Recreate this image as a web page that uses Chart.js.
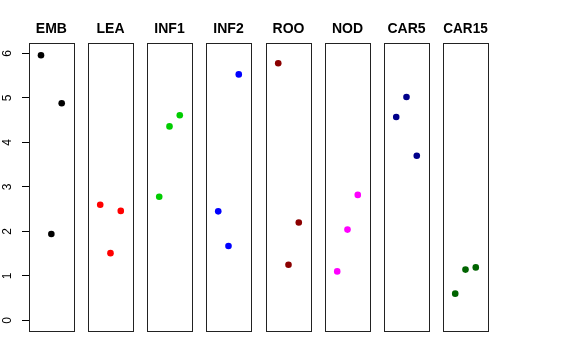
<!DOCTYPE html>
<html>
<head>
<meta charset="utf-8">
<script src="https://cdn.jsdelivr.net/npm/chart.js@4/dist/chart.umd.min.js"></script>
<style>
  html, body { margin: 0; padding: 0; background: #fff; }
  #wrap { position: relative; width: 576px; height: 360px; overflow: hidden; }
  #wrap canvas { position: absolute; top: 0; }
</style>
</head>
<body>
<div id="wrap"></div>
<script>
// panel names and colours
const PANELS = ['EMB', 'LEA', 'INF1', 'INF2', 'ROO', 'NOD', 'CAR5', 'CAR15'];
const COLORS = ['#000000', '#FF0000', '#00CD00', '#0000FF', '#8B0000', '#FF00FF', '#00008B', '#006400'];

// x positions inside every panel
const X_POS = [1, 2, 3];

// values per panel, in x order
const EMB = [5.96, 1.94, 4.88];
const LEA = [2.60, 1.51, 2.46];
const INF1 = [2.78, 4.36, 4.61];
const INF2 = [2.45, 1.67, 5.53];
const ROO = [5.78, 1.25, 2.20];
const NOD = [1.10, 2.04, 2.82];
const CAR5 = [4.57, 5.02, 3.70];
const CAR15 = [0.60, 1.14, 1.19];

const VALUES = [EMB, LEA, INF1, INF2, ROO, NOD, CAR5, CAR15];

const Y_TICKS = [0, 1, 2, 3, 4, 5, 6];

// layout
const BOX_LEFT0 = 28.5;
const BOX_STEP = 59.25;
const BOX_W = 45;
const CANVAS_H = 360;
const SIDE_PAD = 3;
const FONT = "'Liberation Sans', Arial, Helvetica, sans-serif";

const boxPlugin = {
  id: 'panelBox',
  afterDraw(chart) {
    const { ctx, chartArea: a } = chart;
    ctx.save();
    ctx.strokeStyle = '#222';
    ctx.lineWidth = 1;
    ctx.strokeRect(
      Math.round(a.left) + 0.5,
      Math.round(a.top) + 0.5,
      Math.round(a.right) - Math.round(a.left),
      Math.round(a.bottom) - Math.round(a.top)
    );
    ctx.restore();
  },
};

const wrap = document.getElementById('wrap');

PANELS.forEach((name, i) => {
  const boxLeft = Math.round(BOX_LEFT0 + BOX_STEP * i);
  const first = i === 0;

  const canvas = document.createElement('canvas');
  const left = first ? 0 : boxLeft - SIDE_PAD;
  const width = first ? boxLeft + BOX_W + SIDE_PAD : BOX_W + 2 * SIDE_PAD;
  canvas.width = width;
  canvas.height = CANVAS_H;
  canvas.style.left = left + 'px';
  canvas.style.width = width + 'px';
  canvas.style.height = CANVAS_H + 'px';
  wrap.appendChild(canvas);

  const points = X_POS.map((x, k) => ({ x: x, y: VALUES[i][k] }));

  const yScale = {
    type: 'linear',
    min: -0.24,
    max: 6.24,
    display: first,
    position: 'left',
    afterBuildTicks: (scale) => {
      scale.ticks = Y_TICKS.map((v) => ({ value: v }));
    },
    border: { display: false },
    grid: {
      drawOnChartArea: false,
      drawTicks: true,
      tickLength: 7,
      color: '#000',
      tickColor: '#000',
    },
    ticks: {
      color: '#000',
      font: { family: FONT, size: 12 },
      minRotation: 90,
      maxRotation: 90,
      crossAlign: 'center',
      padding: 11,
    },
  };
  if (first) {
    yScale.afterFit = (scale) => {
      scale.width = boxLeft;
    };
  }

  new Chart(canvas, {
    type: 'scatter',
    data: {
      datasets: [
        {
          data: points,
          backgroundColor: COLORS[i],
          borderColor: COLORS[i],
          pointRadius: 3.3,
          pointHoverRadius: 3.3,
          borderWidth: 0,
        },
      ],
    },
    options: {
      responsive: false,
      animation: false,
      events: [],
      layout: {
        padding: { left: first ? 0 : SIDE_PAD, right: SIDE_PAD, top: 0, bottom: 29 },
      },
      plugins: {
        legend: { display: false },
        tooltip: { enabled: false },
        title: {
          display: true,
          text: name,
          fullSize: false,
          color: '#000',
          font: { family: FONT, size: 14, weight: 'bold' },
          padding: { top: 21, bottom: 5 },
        },
      },
      scales: {
        x: {
          type: 'linear',
          min: -0.16,
          max: 4.16,
          display: false,
        },
        y: yScale,
      },
    },
    plugins: [boxPlugin],
  });
});
</script>
</body>
</html>
